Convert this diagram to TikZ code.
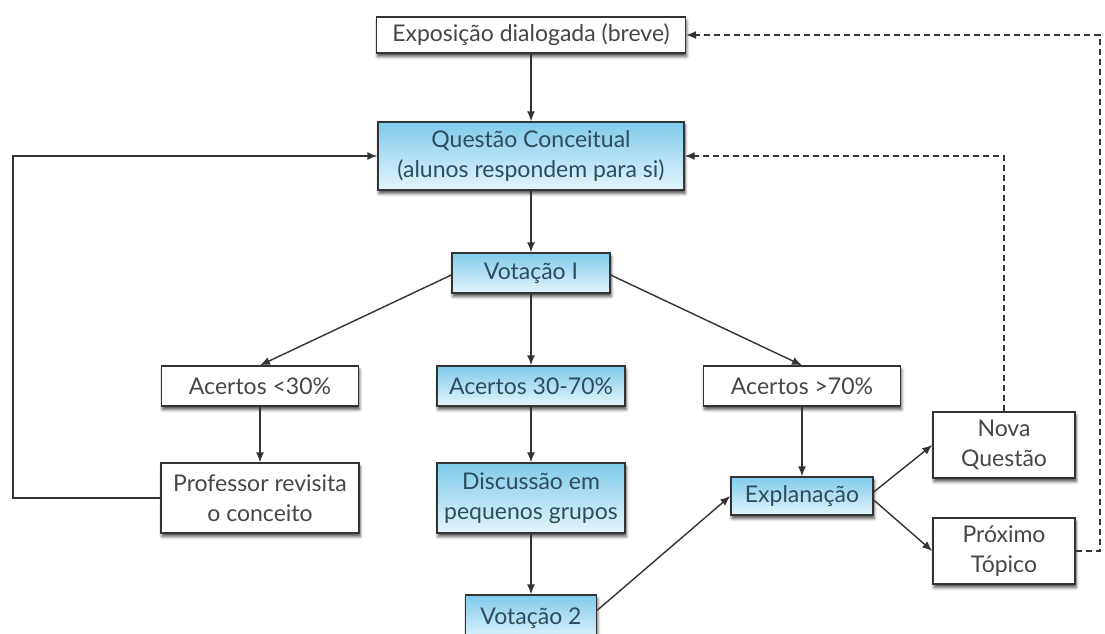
\documentclass[tikz,border=0pt]{standalone}
\usepackage{fontspec}
\setmainfont{Lato}
\usetikzlibrary{arrows.meta,shadows.blur,calc}
\definecolor{linec}{HTML}{333333}
\definecolor{txtg}{HTML}{464646}
\definecolor{txtb}{HTML}{2E4D5C}
\definecolor{bluetop}{HTML}{7FCBEB}
\definecolor{bluebot}{HTML}{E4F5FC}
\tikzset{
  box/.style={draw=linec, line width=1.4pt, fill=white, text=txtg, inner sep=0pt,
    align=center, font=\fontsize{23}{30}\selectfont,
    blur shadow={shadow xshift=1pt, shadow yshift=-3.5pt, shadow blur radius=3pt, shadow opacity=70}},
  bluebox/.style={box, top color=bluetop, bottom color=bluebot, text=txtb},
  conn/.style={draw=linec, line width=1.4pt, -{Latex[length=10pt,width=8pt]}},
  dconn/.style={conn, dash pattern=on 6pt off 4pt},
}
\begin{document}
\begin{tikzpicture}[x=1pt,y=-1pt]
\useasboundingbox (0,0) rectangle (1105,633);
\node[box, minimum width=309pt, minimum height=36pt] (expo) at (531,35) {Exposição dialogada (breve)};
\node[bluebox, minimum width=306pt, minimum height=68pt] (quest) at (531,156) {Questão Conceitual\\(alunos respondem para si)};
\node[bluebox, minimum width=158pt, minimum height=40pt] (vot1) at (531,273) {Votação I};
\node[box, minimum width=197pt, minimum height=40pt] (acl) at (260,386) {Acertos <30\%};
\node[bluebox, minimum width=188pt, minimum height=40pt] (acm) at (531,386) {Acertos 30-70\%};
\node[box, minimum width=197pt, minimum height=40pt] (ach) at (802,386) {Acertos >70\%};
\node[box, minimum width=198pt, minimum height=70pt] (prof) at (260,498) {Professor revisita\\o conceito};
\node[bluebox, minimum width=188pt, minimum height=70pt] (disc) at (531,498) {Discussão em\\pequenos grupos};
\node[bluebox, minimum width=131pt, minimum height=46pt] (vot2) at (531,618) {Votação 2};
\node[bluebox, minimum width=142pt, minimum height=38pt] (expl) at (802,496) {Explanação};
\node[box, minimum width=142pt, minimum height=66pt] (nova) at (1004,445) {Nova\\Questão};
\node[box, minimum width=142pt, minimum height=66pt] (prox) at (1004,551) {Próximo\\Tópico};
\coordinate (lx) at (13,0);
\coordinate (rx) at (1100,0);

\draw[conn] (expo) -- (quest);
\draw[conn] (quest) -- (vot1);
\draw[conn] ($(vot1.west)+(0,2)$) -- (acl.north);
\draw[conn] (vot1) -- (acm);
\draw[conn] ($(vot1.east)+(0,2)$) -- (ach.north);
\draw[conn] (acl) -- (prof);
\draw[conn] (acm) -- (disc);
\draw[conn] (ach) -- (expl);
\draw[conn] (disc) -- (vot2);
\draw[conn] ($(vot2.north east)+(0,16)$) -- (expl.west);
\draw[conn] ($(expl.east)+(0,-4)$) -- (nova.west);
\draw[conn] ($(expl.east)+(0,4)$) -- (prox.west);
\draw[conn] (prof.west) -- (prof.west -| lx) |- (quest.west);
\draw[dconn] (nova.north) |- (quest.east);
\draw[dconn] (prox.east) -- (prox.east -| rx) |- (expo.east);
\end{tikzpicture}
\end{document}
